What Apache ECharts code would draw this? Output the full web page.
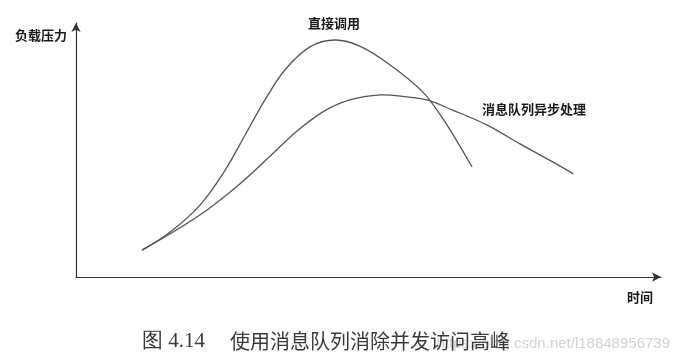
<!DOCTYPE html>
<html>
<head>
<meta charset="utf-8">
<script src="https://cdn.jsdelivr.net/npm/echarts@6/dist/echarts.min.js"></script>
<style>
html,body{margin:0;padding:0;background:#fff;}
#chart{width:679px;height:364px;}
</style>
</head>
<body>
<div id="chart"></div>
<script>
// Data (time 0-100, load 0-100)
const directTime = [11.3, 16.1, 21.2, 25.5, 28.9, 32.3, 35.7, 40.0, 44.3, 48.5, 53.7, 59.3, 63.1, 67.7];
const directLoad = [10.6, 17.7, 28.3, 42.1, 55.9, 69.7, 81.5, 90.6, 93.3, 90.9, 83.5, 72.8, 61.0, 43.3];
const queueTime = [11.3, 16.6, 22.4, 28.0, 33.2, 37.4, 42.2, 46.8, 52.0, 56.6, 60.0, 64.4, 70.3, 75.9, 81.5, 85.0];
const queueLoad = [10.6, 17.7, 26.4, 36.6, 47.6, 56.7, 65.0, 69.7, 71.7, 70.9, 69.7, 65.7, 59.8, 52.4, 45.3, 40.6];
const seriesNames = ['直接调用', '消息队列异步处理'];
const axisNames = ['时间', '负载压力'];
const captionFig = '图 4.14';
const captionText = '使用消息队列消除并发访问高峰';
const watermark = 'https://blog.csdn.net/l18848956739';

const zip = (xs, ys) => xs.map((x, i) => [x, ys[i]]);
const chart = echarts.init(document.getElementById('chart'), null, {renderer: 'canvas'});
const labelFont = {fontFamily: 'Noto Sans CJK SC', fontSize: 13, fontWeight: 'bold', fill: '#1a1a1a'};
const axisLineStyle = {color: '#333', width: 1.2};

// Smooth curve through all points of a series, positioned via the axes' scales
function curveSeries(name, xs, ys) {
  const pts = zip(xs, ys);
  return {
    name: name, type: 'custom', data: pts, encode: {x: 0, y: 1},
    renderItem: function (params, api) {
      if (params.dataIndex !== 0) return null;
      return {
        type: 'polyline',
        shape: {points: pts.map(p => api.coord(p)), smooth: 0.35},
        style: {fill: null, stroke: '#555', lineWidth: 1.3}
      };
    }
  };
}

chart.setOption({
  backgroundColor: '#fff',
  animation: false,
  grid: {left: 76, right: 18, top: 23, bottom: 87},
  xAxis: {
    type: 'value', min: 0, max: 100,
    axisLine: {show: true, lineStyle: axisLineStyle, symbol: ['none', 'arrow'], symbolSize: [7, 9]},
    axisTick: {show: false}, axisLabel: {show: false}, splitLine: {show: false}
  },
  yAxis: {
    type: 'value', min: 0, max: 100,
    axisLine: {show: true, lineStyle: axisLineStyle, symbol: ['none', 'arrow'], symbolSize: [7, 9]},
    axisTick: {show: false}, axisLabel: {show: false}, splitLine: {show: false}
  },
  series: [
    curveSeries(seriesNames[0], directTime, directLoad),
    curveSeries(seriesNames[1], queueTime, queueLoad)
  ],
  graphic: [
    {type: 'text', left: 15, top: 29, style: Object.assign({text: axisNames[1]}, labelFont)},
    {type: 'text', left: 627, top: 291, style: Object.assign({text: axisNames[0]}, labelFont)},
    {type: 'text', left: 308, top: 17, style: Object.assign({text: seriesNames[0]}, labelFont)},
    {type: 'text', left: 482, top: 103, style: Object.assign({text: seriesNames[1]}, labelFont)},
    {type: 'text', right: 9, top: 336, z: 1, style: {text: watermark, fontFamily: 'Liberation Sans', fontSize: 15, fill: '#d2d2d2'}},
    {type: 'text', left: 142, top: 331, z: 2, style: {text: captionFig, fontFamily: 'Liberation Serif', fontSize: 21, fill: '#3a3a3a'}},
    {type: 'text', left: 230, top: 331, z: 2, style: {text: captionText, fontFamily: 'Noto Sans CJK SC', fontSize: 20, fill: '#3a3a3a'}}
  ]
});
</script>
</body>
</html>
